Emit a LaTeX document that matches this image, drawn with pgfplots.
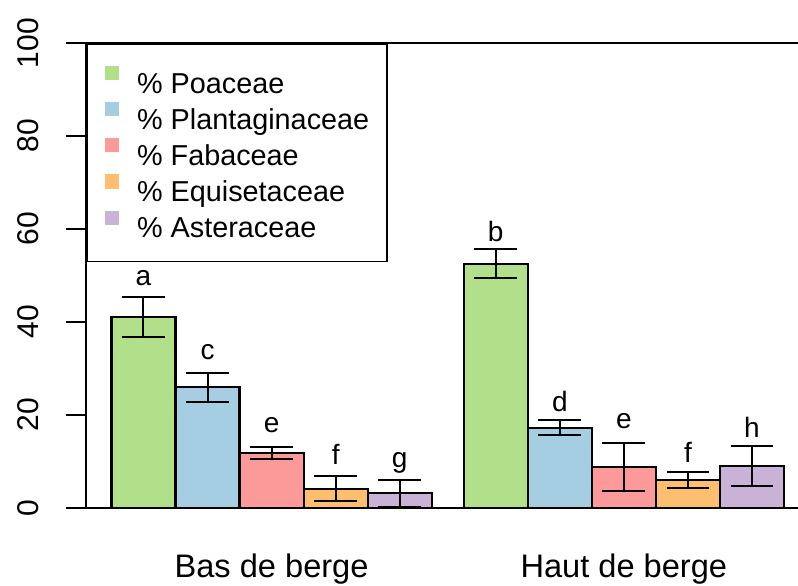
\documentclass[border=0pt]{standalone}
\usepackage{pgfplots}
\pgfplotsset{compat=1.18}
\usepackage{fontspec}
\setmainfont{Liberation Sans}

\definecolor{cPoa}{RGB}{178,223,138}
\definecolor{cPla}{RGB}{166,206,227}
\definecolor{cFab}{RGB}{251,154,153}
\definecolor{cEqu}{RGB}{253,191,111}
\definecolor{cAst}{RGB}{202,178,214}

\pgfplotsset{
  barsty/.style={ybar, bar width=1, bar shift=0pt, fill=#1, draw=black, line width=1.1pt,
    legend image code/.code={\fill[#1] (0pt,1.5pt) rectangle (6pt,7.5pt);},
    error bars/.cd, y dir=both, y explicit,
    error bar style={line width=1pt, black},
    error mark=|,
    error mark options={mark size=10.7pt, line width=1pt, black}},
}

\begin{document}
\begin{tikzpicture}
\begin{axis}[
  scale only axis, width=356pt, height=232.35pt,
  xmin=0.1023, xmax=11.219, ymin=0, ymax=100,
  axis x line*=box, axis y line*=left,
  axis line style={line width=1pt},
  ytick={0,20,...,100},
  tick align=outside, major tick length=10pt,
  ytick style={line width=1pt, black},
  yticklabel style={rotate=90, anchor=south, inner sep=0pt, yshift=13.5pt,
    font=\fontsize{15}{18}\selectfont},
  /pgf/number format/assume math mode=true,
  xtick={3,8.5}, xticklabels={Bas de berge, Haut de berge},
  xtick style={draw=none}, xticklabel pos=lower,
  xticklabel style={anchor=base, inner sep=0pt, yshift=-25pt,
    font=\fontsize{16.3}{19}\selectfont},
  legend style={at={(0,1)}, anchor=north west, draw=black, line width=0.9pt, fill=white,
    inner xsep=9pt, inner ysep=11pt, row sep=3.6pt, column sep=9pt,
    font=\fontsize{14.4}{17}\selectfont,
    nodes={inner sep=0pt, text height=12pt, text depth=0.85pt}},
  legend cell align=left,
  clip=false,
]
\addplot[barsty=cPoa] table[x=x, y=y, y error=e] {
x y e
1 41.1 4.3
6.5 52.5 3.15
};
\addlegendentry{\% Poaceae}
\addplot[barsty=cPla] table[x=x, y=y, y error=e] {
x y e
2 25.9 3.15
7.5 17.2 1.6
};
\addlegendentry{\% Plantaginaceae}
\addplot[barsty=cFab] table[x=x, y=y, y error=e] {
x y e
3 11.8 1.35
8.5 8.8 5.2
};
\addlegendentry{\% Fabaceae}
\addplot[barsty=cEqu] table[x=x, y=y, y error=e] {
x y e
4 4.1 2.7
9.5 5.95 1.75
};
\addlegendentry{\% Equisetaceae}
\addplot[barsty=cAst] table[x=x, y=y, y error=e] {
x y e
5 3.1 2.85
10.5 9.0 4.3
};
\addlegendentry{\% Asteraceae}
% significance letters
\addplot[forget plot, draw=none, mark=none, nodes near coords, point meta=explicit symbolic,
  every node near coord/.append style={anchor=base, inner sep=0pt,
    font=\fontsize{14}{17}\selectfont}]
  table[x=x, y=y, meta=lab] {
x y lab
1 47.9 a
2 31.9 c
3 16.1 e
4 9.2 f
5 8.6 g
6.5 57.2 b
7.5 20.7 d
8.5 17.1 e
9.5 9.8 f
10.5 15.1 h
};
\coordinate (bbsw) at ([xshift=-43pt,yshift=-38.65pt]rel axis cs:0,0);
\coordinate (bbne) at ([yshift=21.5pt]rel axis cs:1,1);
\end{axis}
\pgfresetboundingbox
\path[use as bounding box] (bbsw) rectangle (bbne);
\end{tikzpicture}
\end{document}
